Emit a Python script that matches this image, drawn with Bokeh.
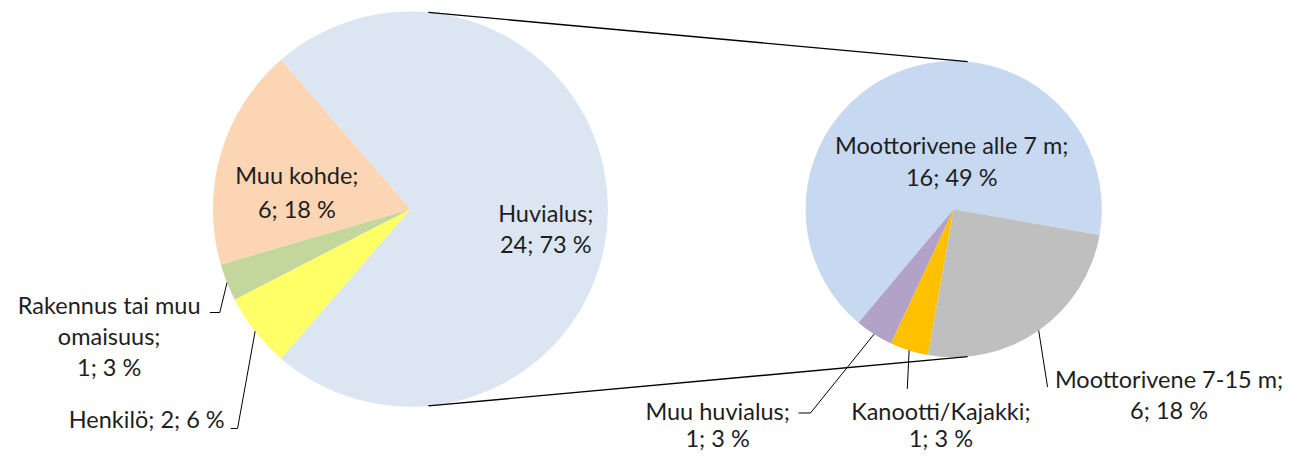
import math
from bokeh.plotting import figure
from bokeh.models import Range1d
from bokeh.core.properties import value
from bokeh.embed import file_html
from bokeh.resources import INLINE

# ---- data ----
main_names = ["Huvialus", "Muu kohde", "Rakennus tai muu omaisuus", "Henkilö"]
main_values = [24, 6, 1, 2]
main_pcts = [73, 18, 3, 6]
main_colors = ["#DCE6F2", "#FCD5B5", "#C3D69B", "#FFFF66"]

sub_names = ["Moottorivene alle 7 m", "Muu huvialus", "Kanootti/Kajakki", "Moottorivene 7-15 m"]
sub_values = [16, 1, 1, 6]
sub_pcts = [49, 3, 3, 18]
sub_colors = ["#C6D9F1", "#B3A2C7", "#FFC000", "#BFBFBF"]

# ---- layout (reference pixel coords; y measured downward) ----
W, H = 1293, 455
RW, RH = 1309, 471
SX, SY = W / RW, H / RH
def Y(y):
    return RH - y

LCX, LCY, LR = 415, 216, 200
RCX, RCY, RR = 965, 216, 150
FONT = value("Lato")
FS = "23.5px"
TXT = "#1e1e1e"

p = figure(width=W, height=H, x_range=Range1d(0, RW), y_range=Range1d(0, RH),
           output_backend="svg", toolbar_location=None, min_border=0,
           x_axis_location=None, y_axis_location=None)
p.grid.visible = False
p.outline_line_color = None
p.background_fill_color = "white"
p.border_fill_color = "white"

def pie_angles(vals, start):
    tot = sum(vals)
    starts, ends = [], []
    a = start
    for v in vals:
        s = a
        a = a + 2 * math.pi * v / tot
        starts.append(s)
        ends.append(a)
    return starts, ends

# main pie: first slice centred on the east direction
m_start = -math.pi * main_values[0] / sum(main_values)
ms, me = pie_angles(main_values, m_start)
p.wedge(x=[LCX] * 4, y=[Y(LCY)] * 4, radius=LR, start_angle=ms, end_angle=me,
        direction="anticlock", fill_color=main_colors, line_color=None)

# secondary pie
s_start = math.radians(-10)
ss, se = pie_angles(sub_values, s_start)
p.wedge(x=[RCX] * 4, y=[Y(RCY)] * 4, radius=RR, start_angle=ss, end_angle=se,
        direction="anticlock", fill_color=sub_colors, line_color=None)

def edge(cx, cy, r, ang):
    # point on the drawn (screen-round) circle, in data units
    return cx + r * math.cos(ang), Y(cy) + r * math.sin(ang) * SX / SY

# connector lines between pies
ca_l = math.radians(84.8)
ca_r = math.radians(84.6)
for sgn in (1, -1):
    x0, y0 = edge(LCX, LCY, LR, sgn * ca_l)
    x1, y1 = edge(RCX, RCY, RR, sgn * ca_r)
    p.line([x0, x1], [y0, y1], line_color="#000000", line_width=1.4)

def mid(s, e):
    return (s + e) / 2

# leader lines
leaders = [
    (edge(LCX, LCY, LR, mid(ms[2], me[2])), [(222, 323), (212, 323)]),
    (edge(LCX, LCY, LR, mid(ms[3], me[3])), [(240, 443), (233, 443)]),
    (edge(RCX, RCY, RR, mid(ss[3], se[3])), [(1060, 400)]),
    (edge(RCX, RCY, RR, mid(ss[2], se[2])), [(918, 402)]),
    (edge(RCX, RCY, RR, mid(ss[1], se[1])), [(820, 427), (808, 427)]),
]
for (ex, ey), pts in leaders:
    xs = [ex] + [q[0] for q in pts]
    ys = [ey] + [Y(q[1]) for q in pts]
    p.line(xs, ys, line_color="#000000", line_width=1)

# labels
def lab(name, v, pct):
    return f"{name};", f"{v}; {pct} %"

lines = []
n, v = lab(main_names[0], main_values[0], main_pcts[0])
lines += [(552, 220, n), (552, 252, v)]
n, v = lab(main_names[1], main_values[1], main_pcts[1])
lines += [(300, 181, n), (300, 216, v)]
lines += [(110, 315, "Rakennus tai muu"), (110, 347, "omaisuus;"),
          (110, 379, f"{main_values[2]}; {main_pcts[2]} %")]
lines += [(148, 433, f"{main_names[3]}; {main_values[3]}; {main_pcts[3]} %")]
n, v = lab(sub_names[0], sub_values[0], sub_pcts[0])
lines += [(963, 150, n), (963, 183, v)]
n, v = lab(sub_names[3], sub_values[3], sub_pcts[3])
lines += [(1183, 392, n), (1183, 424, v)]
n, v = lab(sub_names[2], sub_values[2], sub_pcts[2])
lines += [(952, 425, n), (952, 453, v)]
n, v = lab(sub_names[1], sub_values[1], sub_pcts[1])
lines += [(726, 425, n), (726, 453, v)]

p.text(x=[l[0] for l in lines], y=[Y(l[1]) for l in lines], text=[l[2] for l in lines],
       text_font=FONT, text_font_size=FS, text_color=TXT,
       text_align="center", text_baseline="middle")

open("out.html", "w").write(file_html(p, INLINE))
